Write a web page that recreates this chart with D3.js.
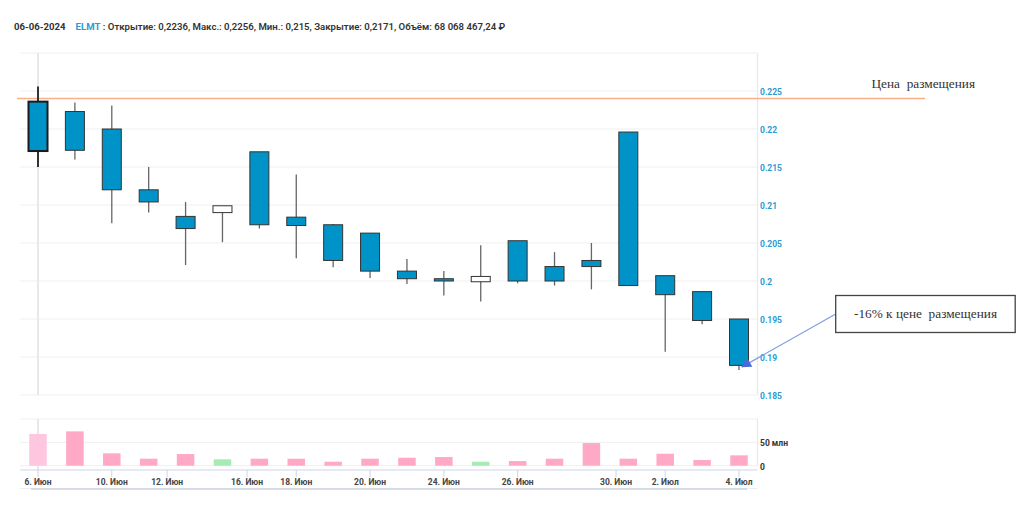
<!DOCTYPE html>
<html><head><meta charset="utf-8">
<script src="https://cdn.jsdelivr.net/npm/d3@7"></script>
<style>
html,body{margin:0;padding:0;background:#fff;}
svg{display:block;}
</style></head>
<body>
<svg id="c" width="1024" height="505"></svg>
<script>
// ---- data ----
const dates = ["2024-06-06","2024-06-07","2024-06-10","2024-06-11","2024-06-13","2024-06-14","2024-06-17","2024-06-18","2024-06-19","2024-06-20","2024-06-21","2024-06-24","2024-06-25","2024-06-26","2024-06-27","2024-06-28","2024-07-01","2024-07-02","2024-07-03","2024-07-04"];
const open  = [0.2236,0.2223,0.2200,0.2120,0.2085,0.2090,0.2170,0.2084,0.2074,0.2063,0.2013,0.2003,0.1999,0.2053,0.2019,0.2027,0.2196,0.2007,0.1986,0.1950];
const high  = [0.2256,0.2235,0.2231,0.2150,0.2104,0.2099,0.2170,0.2140,0.2075,0.2063,0.2029,0.2013,0.2047,0.2053,0.2038,0.2050,0.2196,0.2007,0.1986,0.1950];
const low   = [0.2150,0.2160,0.2076,0.2090,0.2021,0.2051,0.2069,0.2030,0.2018,0.2004,0.1996,0.1981,0.1973,0.1997,0.1994,0.1989,0.1994,0.1907,0.1943,0.1883];
const close = [0.2171,0.2172,0.2120,0.2104,0.2069,0.2099,0.2074,0.2073,0.2027,0.2013,0.2003,0.2000,0.2006,0.2000,0.2000,0.2019,0.1994,0.1982,0.1948,0.1889];
const volume = [68.07e6,73.5e6,26.5e6,15e6,25e6,13.7e6,15e6,15e6,8.5e6,15e6,17e6,18.6e6,8.5e6,10e6,15e6,48.5e6,15e6,25.6e6,12.2e6,22.2e6];
const priceTicks = [0.185,0.19,0.195,0.2,0.205,0.21,0.215,0.22,0.225];
const priceGrid = [0.185,0.19,0.195,0.2,0.205,0.21,0.215,0.22,0.225,0.23];
const volTicks = [0, 50e6];
const volTickLabels = ["0","50 млн"];
const volGrid = [0, 50e6, 100e6];
const xTickDates = ["2024-06-06","2024-06-10","2024-06-12","2024-06-16","2024-06-18","2024-06-20","2024-06-24","2024-06-26","2024-06-30","2024-07-02","2024-07-04"];
const xTickLabels = ["6. Июн","10. Июн","12. Июн","16. Июн","18. Июн","20. Июн","24. Июн","26. Июн","30. Июн","2. Июл","4. Июл"];
const placementPrice = 0.224;
const selected = 0;
const header = {date:"06-06-2024", ticker:"ELMT", rest:" : Открытие: 0,2236, Макс.: 0,2256, Мин.: 0,215, Закрытие: 0,2171, Объём: 68 068 467,24 ₽"};
const placementLabel = "Цена  размещения";
const noteLabel = "-16% к цене  размещения";

// ---- scales ----
const svg = d3.select("#c");
const parse = d3.timeParse("%Y-%m-%d");
const dt = dates.map(parse);
const xi = d3.scaleLinear().domain([0, dates.length-1]).range([38, 739]);
function ordinalIndex(d){
  const t = +d;
  for(let i=0;i<dt.length-1;i++){
    if(t>=+dt[i] && t<=+dt[i+1]) return i + (t-dt[i])/(dt[i+1]-dt[i]);
  }
  return t<+dt[0]?0:dt.length-1;
}
const y = d3.scaleLinear().domain([0.185,0.23]).range([395,53]);
const yv = d3.scaleLinear().domain([0,100e6]).range([465.7,419]);
const L = 20, R = 757.5;

// grid
svg.append("g").selectAll("line").data(priceGrid).join("line")
  .attr("x1",L).attr("x2",R).attr("y1",d=>y(d)).attr("y2",d=>y(d))
  .attr("stroke","#efefef").attr("stroke-width",1);
svg.append("g").selectAll("line").data(volGrid).join("line")
  .attr("x1",L).attr("x2",R).attr("y1",d=>yv(d)).attr("y2",d=>yv(d))
  .attr("stroke","#efefef").attr("stroke-width",1);

// crosshair
svg.append("line").attr("x1",xi(selected)).attr("x2",xi(selected)).attr("y1",y(0.23)).attr("y2",y(0.185))
  .attr("stroke","#e8e8e8").attr("stroke-width",2);
svg.append("line").attr("x1",xi(selected)).attr("x2",xi(selected)).attr("y1",yv(100e6)).attr("y2",470)
  .attr("stroke","#e8e8e8").attr("stroke-width",2);

// right axis lines
svg.append("line").attr("x1",R).attr("x2",R).attr("y1",y(0.23)).attr("y2",y(0.185)).attr("stroke","#e3e8f5").attr("stroke-width",1.2);
svg.append("line").attr("x1",R).attr("x2",R).attr("y1",yv(100e6)).attr("y2",yv(0)).attr("stroke","#e3e8f5").attr("stroke-width",1.2);

// price axis labels
const ya = d3.axisRight(y).tickValues(priceTicks).tickSize(0).tickPadding(0).tickFormat(d=>String(+d.toFixed(3)));
const yg = svg.append("g").attr("transform",`translate(760,0)`).call(ya);
yg.select(".domain").remove();
yg.selectAll("text").attr("fill","#2a9bd3").attr("font-family","Roboto, sans-serif").attr("font-weight","700").attr("font-size","8.5px").attr("dy","0.4em");

// volume axis labels
const va = d3.axisRight(yv).tickValues(volTicks).tickSize(0).tickPadding(0).tickFormat((d,i)=>volTickLabels[i]);
const vg = svg.append("g").attr("transform",`translate(760,0)`).call(va);
vg.select(".domain").remove();
vg.selectAll("text").attr("fill","#333").attr("font-family","Roboto, sans-serif").attr("font-weight","700").attr("font-size","8.5px").attr("dy","0.4em");

// x axis
svg.append("line").attr("x1",L).attr("x2",R).attr("y1",470).attr("y2",470).attr("stroke","#ccd6eb").attr("stroke-width",1.2);
const xtPos = xTickDates.map(s=>xi(ordinalIndex(parse(s))));
const xg = svg.append("g");
xg.selectAll("line").data(xtPos).join("line").attr("x1",d=>d).attr("x2",d=>d).attr("y1",470).attr("y2",477)
  .attr("stroke","#ccd6eb").attr("stroke-width",1);
xg.selectAll("text").data(xtPos).join("text").attr("x",d=>d).attr("y",484.5).attr("text-anchor","middle")
  .attr("fill","#444").attr("font-family","Roboto, sans-serif").attr("font-weight","700").attr("font-size","8.5px")
  .text((d,i)=>xTickLabels[i]);

// scrollbar lines
svg.append("line").attr("x1",L).attr("x2",R).attr("y1",488.5).attr("y2",488.5).attr("stroke","#eceef2").attr("stroke-width",1);
svg.append("line").attr("x1",31).attr("x2",747).attr("y1",489).attr("y2",489).attr("stroke","#cfd3dc").attr("stroke-width",1.5);

// volume bars
const vw = 17.5;
svg.append("g").selectAll("rect").data(volume).join("rect")
  .attr("x",(d,i)=>xi(i)-vw/2).attr("width",vw)
  .attr("y",d=>yv(d)).attr("height",d=>yv(0)-yv(d))
  .attr("fill",(d,i)=> i===selected ? "#ffc6e0" : (close[i]>open[i] ? "#a6ebb2" : "#ffa9c6"));

// placement line
svg.append("line").attr("x1",17).attr("x2",925).attr("y1",y(placementPrice)).attr("y2",y(placementPrice))
  .attr("stroke","#f9b088").attr("stroke-width",1.5);

// candles
const cw = 19;
const cg = svg.append("g");
dates.forEach((d,i)=>{
  const xc = xi(i);
  const up = close[i]>open[i];
  const sel = i===selected;
  cg.append("line").attr("x1",xc).attr("x2",xc).attr("y1",y(high[i])).attr("y2",y(low[i]))
    .attr("stroke", sel ? "#333" : "#666").attr("stroke-width", sel?2:1.3);
  const top = y(Math.max(open[i],close[i])), bot = y(Math.min(open[i],close[i]));
  cg.append("rect").attr("x",xc-cw/2).attr("width",cw).attr("y",top).attr("height",Math.max(1,bot-top))
    .attr("fill", up ? "#ffffff" : "#0093c8")
    .attr("stroke", sel ? "#1a1a1a" : "#333").attr("stroke-width", sel?2:1);
});

// header
const ht = svg.append("text").attr("x",14).attr("y",29.5).attr("font-family","Roboto, sans-serif").attr("font-size","9.6px").attr("font-weight","700").attr("fill","#333");
ht.append("tspan").text(header.date);
ht.append("tspan").attr("dx",10).attr("fill","#2a9bd3").text(header.ticker);
ht.append("tspan").attr("fill","#333").attr("font-weight","600").text(header.rest);

// placement label
svg.append("text").attr("x",871.5).attr("y",87.5).attr("font-family","'Liberation Serif', serif").attr("font-size","13.3px")
  .attr("fill","#333").style("white-space","pre").text(placementLabel);

// note box + arrow
svg.append("defs").append("marker").attr("id","ah").attr("viewBox","0 0 10 10").attr("refX",9).attr("refY",5)
  .attr("markerUnits","userSpaceOnUse").attr("markerWidth",13).attr("markerHeight",10).attr("orient","auto")
  .append("path").attr("d","M0,0 L10,5 L0,10 z").attr("fill","#4a6cd4");
const tipIdx = dates.length-1;
svg.append("line").attr("x1",835.7).attr("y1",314).attr("x2",xi(tipIdx)+3).attr("y2",y(close[tipIdx])+1.5)
  .attr("stroke","#7f9de0").attr("stroke-width",1.2).attr("marker-end","url(#ah)");
svg.append("rect").attr("x",835.7).attr("y",295.5).attr("width",179.5).attr("height",37)
  .attr("fill","#fff").attr("stroke","#444").attr("stroke-width",1.3);
svg.append("text").attr("x",925.5).attr("y",318).attr("text-anchor","middle").attr("font-family","'Liberation Serif', serif")
  .attr("font-size","13.3px").attr("fill","#333").style("white-space","pre").text(noteLabel);
</script>
</body></html>
